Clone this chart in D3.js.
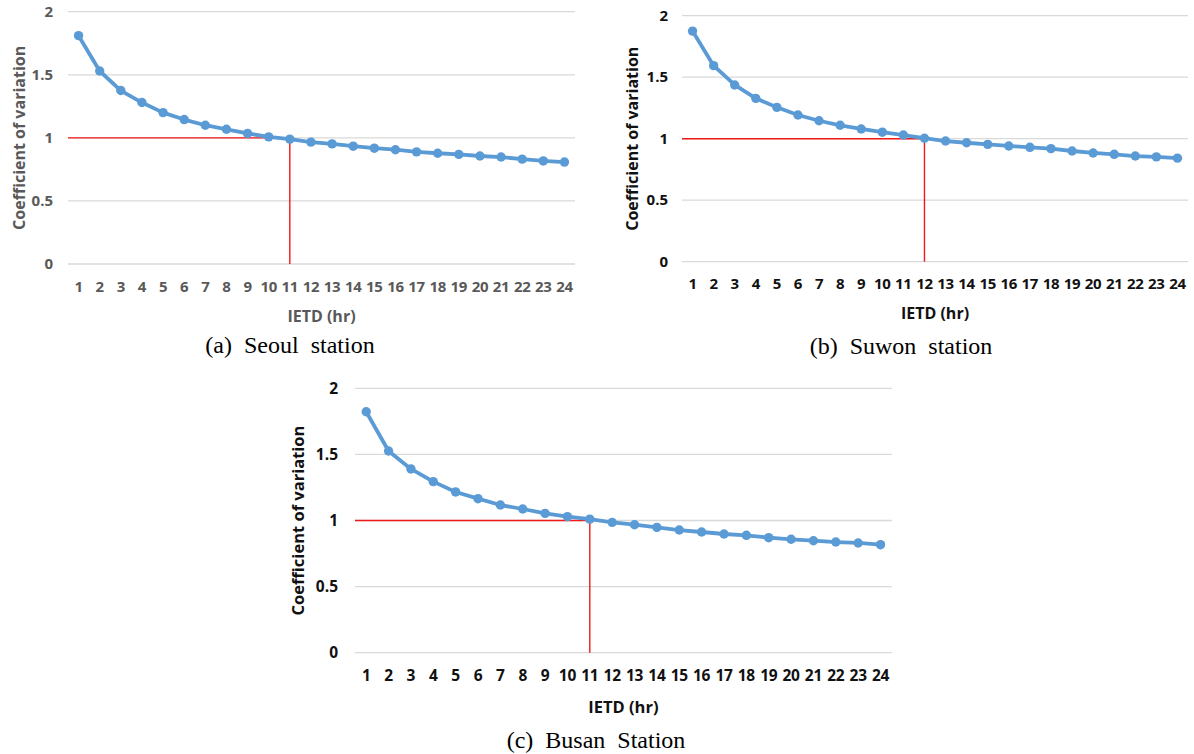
<!DOCTYPE html>
<html>
<head>
<meta charset="utf-8">
<script src="https://cdn.jsdelivr.net/npm/d3@7"></script>
<style>
  html, body { margin: 0; padding: 0; background: #fff; }
  svg { display: block; }
</style>
</head>
<body>
<svg id="chart" width="1194" height="754"></svg>
<script>
// ---- Data ----
const ietdHours = [1,2,3,4,5,6,7,8,9,10,11,12,13,14,15,16,17,18,19,20,21,22,23,24];
const seoulCV = [1.81,1.53,1.375,1.28,1.20,1.145,1.10,1.068,1.035,1.008,0.99,0.966,0.952,0.934,0.918,0.906,0.889,0.878,0.869,0.856,0.848,0.831,0.817,0.808];
const suwonCV = [1.875,1.594,1.437,1.328,1.255,1.193,1.146,1.109,1.079,1.053,1.030,1.004,0.981,0.967,0.954,0.941,0.930,0.919,0.900,0.884,0.873,0.859,0.852,0.842];
const busanCV = [1.823,1.526,1.390,1.294,1.216,1.165,1.117,1.087,1.054,1.029,1.010,0.986,0.968,0.948,0.928,0.913,0.898,0.888,0.870,0.858,0.847,0.837,0.830,0.817];
const yTickValues = [0, 0.5, 1, 1.5, 2];
const yTickLabels = ["0", "0.5", "1", "1.5", "2"];
const thresholdCV = 1;
const thresholdHours = [11, 12, 11];
const captions = ["(a)  Seoul  station", "(b)  Suwon  station", "(c)  Busan  Station"];
const xAxisTitle = "IETD (hr)";
const yAxisTitle = "Coefficient of variation";

const svg = d3.select("#chart");

const panels = [
  { data: seoulCV, thr: thresholdHours[0], caption: captions[0],
    left: 68, right: 575, top: 11.7, bottom: 264, tickY: 287, xTitleY: 316, yTitleX: 19,
    yTickRight: 53, color: "#595959", fs: 15, tfs: 16, capX: 290, capY: 353 },
  { data: suwonCV, thr: thresholdHours[1], caption: captions[1],
    left: 682, right: 1188, top: 15.7, bottom: 261.7, tickY: 284, xTitleY: 313, yTitleX: 632,
    yTickRight: 668, color: "#111", fs: 15, tfs: 16, capX: 901, capY: 354 },
  { data: busanCV, thr: thresholdHours[2], caption: captions[2],
    left: 355, right: 891.7, top: 388.3, bottom: 652.7, tickY: 676, xTitleY: 707, yTitleX: 298,
    yTickRight: 338, color: "#111", fs: 15.5, tfs: 16.5, capX: 596, capY: 748 }
];

const FONT = "'Open Sans', 'Noto Sans', sans-serif";

panels.forEach(p => {
  const g = svg.append("g");
  const x = d3.scalePoint().domain(ietdHours).range([p.left, p.right]).padding(0.5);
  const y = d3.scaleLinear().domain([0, 2]).range([p.bottom, p.top]);

  // gridlines
  g.append("g").selectAll("line").data(yTickValues).join("line")
    .attr("x1", p.left).attr("x2", p.right)
    .attr("y1", d => y(d)).attr("y2", d => y(d))
    .attr("stroke", "#d9d9d9").attr("stroke-width", 1.3);

  // y tick labels
  g.append("g").selectAll("text").data(yTickValues).join("text")
    .attr("x", p.yTickRight).attr("y", d => y(d))
    .attr("dy", "0.35em").attr("text-anchor", "end")
    .attr("font-family", FONT).attr("font-weight", 700).attr("font-size", p.fs)
    .attr("fill", p.color)
    .text((d, i) => yTickLabels[i]);

  // x tick labels
  g.append("g").selectAll("text").data(ietdHours).join("text")
    .attr("x", d => x(d)).attr("y", p.tickY)
    .attr("dy", "0.35em").attr("text-anchor", "middle")
    .attr("font-family", FONT).attr("font-weight", 700).attr("font-size", p.fs)
    .attr("letter-spacing", -0.3)
    .attr("fill", p.color)
    .text(d => d);

  // axis titles
  g.append("text")
    .attr("x", (p.left + p.right) / 2).attr("y", p.xTitleY).attr("dy", "0.35em")
    .attr("text-anchor", "middle")
    .attr("font-family", FONT).attr("font-weight", 700).attr("font-size", p.tfs)
    .attr("fill", p.color).text(xAxisTitle);
  g.append("text")
    .attr("transform", `translate(${p.yTitleX},${(p.top + p.bottom) / 2}) rotate(-90)`)
    .attr("dy", "0.35em").attr("text-anchor", "middle")
    .attr("font-family", FONT).attr("font-weight", 700).attr("font-size", p.tfs)
    .attr("fill", p.color).text(yAxisTitle);

  // threshold red lines
  g.append("path")
    .attr("d", `M${p.left},${y(thresholdCV)}H${x(p.thr)}V${y(0)}`)
    .attr("fill", "none").attr("stroke", "#f01818").attr("stroke-width", 1.4);

  // series line
  const pts = ietdHours.map((h, i) => [h, p.data[i]]);
  g.append("path")
    .datum(pts)
    .attr("d", d3.line().x(d => x(d[0])).y(d => y(d[1])))
    .attr("fill", "none").attr("stroke", "#5b9bd5").attr("stroke-width", 3.8)
    .attr("stroke-linejoin", "round");
  g.append("g").selectAll("circle").data(pts).join("circle")
    .attr("cx", d => x(d[0])).attr("cy", d => y(d[1])).attr("r", 4.7)
    .attr("fill", "#5b9bd5");

  // caption
  g.append("text")
    .attr("x", p.capX).attr("y", p.capY).attr("text-anchor", "middle")
    .attr("font-family", "'Liberation Serif', 'Times New Roman', serif")
    .attr("font-size", 24).attr("fill", "#000")
    .style("white-space", "pre")
    .text(p.caption);
});
</script>
</body>
</html>
